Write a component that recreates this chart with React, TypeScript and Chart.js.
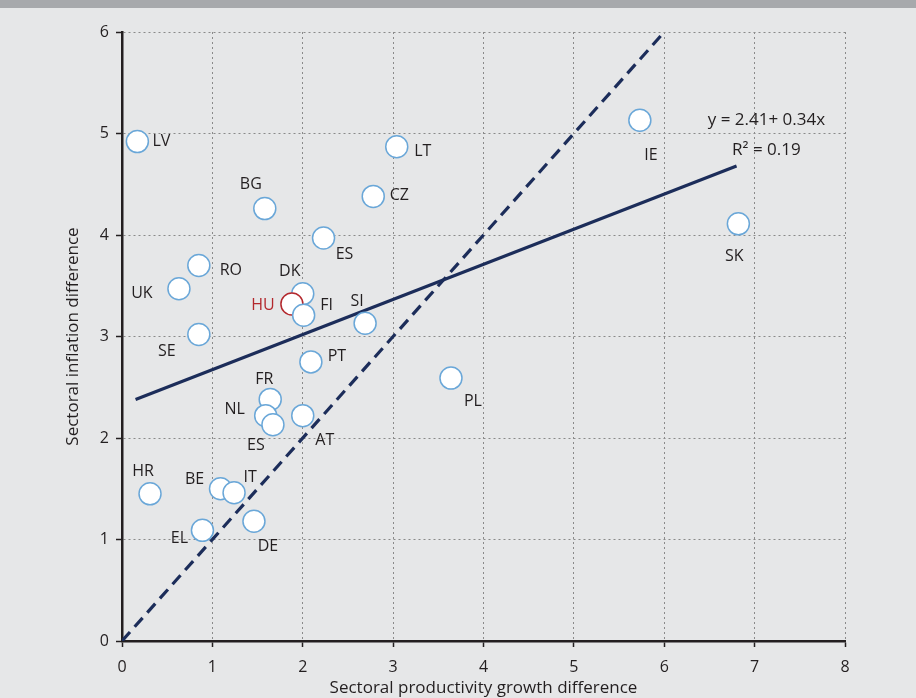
import React, { useEffect, useRef } from 'react';
import { Chart, registerables } from 'chart.js';

Chart.register(...registerables);

// ---- data ----
const countries = ['LV', 'BG', 'LT', 'CZ', 'IE', 'ES', 'SK', 'RO', 'UK', 'DK', 'HU', 'FI', 'SI', 'SE', 'PT', 'PL', 'FR', 'NL', 'ES', 'AT', 'HR', 'BE', 'IT', 'EL', 'DE'];
const productivityGap = [0.17, 1.58, 3.04, 2.78, 5.73, 2.23, 6.82, 0.85, 0.63, 2.0, 1.88, 2.01, 2.69, 0.85, 2.09, 3.64, 1.64, 1.59, 1.67, 2.0, 0.31, 1.09, 1.24, 0.89, 1.46];
const inflationGap = [4.92, 4.26, 4.87, 4.38, 5.13, 3.97, 4.11, 3.7, 3.47, 3.42, 3.32, 3.21, 3.13, 3.02, 2.75, 2.59, 2.38, 2.22, 2.13, 2.22, 1.45, 1.5, 1.46, 1.09, 1.18];
const highlightedCountry = 'HU';
const fitLineX = [0.15, 6.8];
const fitLineY = [2.38, 4.68];
const diagonalX = [0, 6];
const diagonalY = [0, 6];
const equationLines = ['y = 2.41+ 0.34x', 'R\u00B2 = 0.19'];
const equationPosX = 7.13;
const equationPosY = [5.135, 4.84];
const xTitle = 'Sectoral productivity growth difference';
const yTitle = 'Sectoral inflation difference';

// label offsets in pixels (styling)
const labelOffsets: [number, number][] = [
  [24, 0], [-14, -24], [26, 5], [26, -1], [11, 35], [21, 16], [-4, 33], [32, 5], [-37, 5], [-13, -22],
  [-29, 1], [23, -10], [-8, -22], [-32, 17], [26, -5], [22, 23], [-6, -20], [-31, -6], [-17, 21], [22, 25],
  [-7, -22], [-26, -9], [16, -15], [-23, 8], [14, 25],
];

const TEXT = '#231f20';
const NAVY = '#1c2d5a';
const FONT = "'Open Sans', sans-serif";

export default function App() {
  const ref = useRef<HTMLCanvasElement | null>(null);
  useEffect(() => {
    document.body.style.margin = '0';
    const canvas = ref.current;
    if (!canvas) return;

    const bgPlugin = {
      id: 'bg',
      beforeDraw(chart: any) {
        const { ctx, width, height } = chart;
        ctx.save();
        ctx.fillStyle = '#e6e7e8';
        ctx.fillRect(0, 0, width, height);
        ctx.fillStyle = '#a7a9ac';
        ctx.fillRect(0, 0, width, 8);
        ctx.restore();
      },
    };

    const labelPlugin = {
      id: 'labels',
      afterDatasetsDraw(chart: any) {
        const { ctx } = chart;
        const meta = chart.getDatasetMeta(2);
        ctx.save();
        ctx.font = `16px ${FONT}`;
        ctx.textAlign = 'center';
        ctx.textBaseline = 'middle';
        meta.data.forEach((pt: any, i: number) => {
          const [dx, dy] = labelOffsets[i] || [0, 0];
          ctx.fillStyle = countries[i] === highlightedCountry ? '#b3282d' : TEXT;
          ctx.fillText(countries[i], pt.x + dx, pt.y + dy);
        });
        const xs = chart.scales.x;
        const ys = chart.scales.y;
        ctx.fillStyle = TEXT;
        ctx.font = `17px ${FONT}`;
        equationLines.forEach((t, i) => {
          ctx.fillText(t, xs.getPixelForValue(equationPosX), ys.getPixelForValue(equationPosY[i]));
        });
        ctx.restore();
      },
    };

    const chart = new Chart(canvas, {
      type: 'scatter',
      data: {
        datasets: [
          {
            type: 'line',
            data: diagonalX.map((x, i) => ({ x, y: diagonalY[i] })),
            borderColor: NAVY,
            borderWidth: 3.2,
            borderDash: [12, 7],
            pointRadius: 0,
            order: 2,
          },
          {
            type: 'line',
            data: fitLineX.map((x, i) => ({ x, y: fitLineY[i] })),
            borderColor: NAVY,
            borderWidth: 3.2,
            pointRadius: 0,
            order: 1,
          },
          {
            data: productivityGap.map((x, i) => ({ x, y: inflationGap[i] })),
            pointRadius: 11,
            pointBackgroundColor: '#ffffff',
            pointBorderColor: countries.map((c) => (c === highlightedCountry ? '#b3282d' : '#6aa7d8')),
            pointBorderWidth: 1.5,
            order: 0,
          },
        ],
      },
      options: {
        animation: false,
        responsive: false,
        layout: { padding: { left: 0, right: 71, top: 32, bottom: 0 } },
        plugins: { legend: { display: false }, tooltip: { enabled: false } },
        scales: {
          x: {
            type: 'linear',
            min: 0,
            max: 8,
            ticks: { stepSize: 1, color: TEXT, font: { family: FONT, size: 16 }, padding: 11 },
            grid: { color: '#8a8a8a', lineWidth: 1, tickColor: TEXT, tickLength: 6, tickWidth: 1.5 },
            border: { color: TEXT, width: 2.5, dash: [2, 3] },
            title: { display: true, text: xTitle, color: TEXT, font: { family: FONT, size: 17 }, padding: { top: 0, bottom: 0 } },
            afterFit(scale: any) { scale.height = 57; },
          },
          y: {
            type: 'linear',
            min: 0,
            max: 6,
            ticks: { stepSize: 1, color: TEXT, font: { family: FONT, size: 16 }, padding: 7 },
            grid: { color: '#8a8a8a', lineWidth: 1, tickColor: TEXT, tickLength: 6, tickWidth: 1.5 },
            border: { color: TEXT, width: 2.5, dash: [2, 3] },
            title: { display: true, text: yTitle, color: TEXT, font: { family: FONT, size: 17 }, padding: { top: 63, bottom: 0 } },
            afterFit(scale: any) { scale.width = 122; },
          },
        },
      },
      plugins: [bgPlugin, labelPlugin],
    } as any);
    return () => chart.destroy();
  }, []);

  return (
    <div style={{ position: 'absolute', left: 0, top: 0, width: 916, height: 698 }}>
      <canvas ref={ref} width={916} height={698} />
    </div>
  );
}
